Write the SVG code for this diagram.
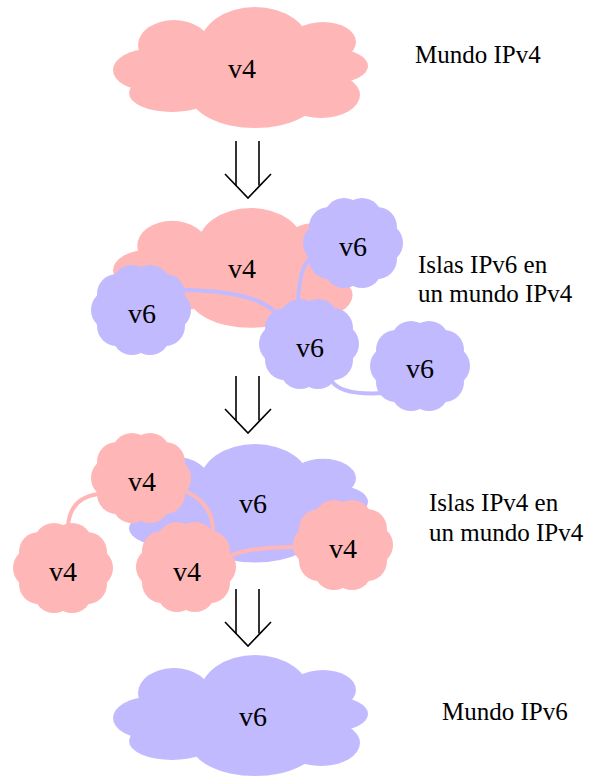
<svg xmlns="http://www.w3.org/2000/svg" width="596" height="777" viewBox="0 0 596 777" font-family="'Liberation Serif', 'Times New Roman', serif">
<style>
.v4{fill:#ffb6b6}
.v6{fill:#c1baff}
text{font-family:'Liberation Serif','Times New Roman',serif;fill:#000}
.ct{font-size:28px;text-anchor:middle}
.lb{font-size:25px}
.c4{fill:none;stroke:#ffb6b6;stroke-width:4;stroke-linecap:round}
.c6{fill:none;stroke:#c1baff;stroke-width:4;stroke-linecap:round}
.ar{fill:none;stroke:#000;stroke-width:1.6}
</style>
<defs>
<symbol id="big" overflow="visible">
<ellipse cx="37" cy="63" rx="37" ry="21"/>
<ellipse cx="61" cy="38" rx="36" ry="25"/>
<ellipse cx="142" cy="39" rx="55" ry="39"/>
<ellipse cx="210" cy="35" rx="33" ry="20"/>
<ellipse cx="221" cy="59" rx="34" ry="17"/>
<ellipse cx="208" cy="88" rx="39" ry="23"/>
<ellipse cx="142" cy="87" rx="65" ry="34"/>
<ellipse cx="59" cy="86" rx="43" ry="19"/>
<ellipse cx="128" cy="60" rx="100" ry="35"/>
</symbol>
<symbol id="small" overflow="visible">
<ellipse cx="50" cy="45" rx="38" ry="34"/>
<circle cx="80" cy="45" r="20"/>
<circle cx="74" cy="61" r="20"/>
<circle cx="59" cy="70" r="20"/>
<circle cx="41" cy="70" r="20"/>
<circle cx="26" cy="61" r="20"/>
<circle cx="20" cy="45" r="20"/>
<circle cx="26" cy="29" r="20"/>
<circle cx="41" cy="20" r="20"/>
<circle cx="59" cy="20" r="20"/>
<circle cx="74" cy="29" r="20"/>
</symbol>
<g id="arrow">
<line class="ar" x1="236" y1="0" x2="236" y2="44.5"/>
<line class="ar" x1="259" y1="0" x2="259" y2="44.5"/>
<polyline class="ar" points="225,33 248,57 271,33"/>
</g>
</defs>

<!-- Stage 1 -->
<g id="world-v4">
<use href="#big" class="v4" transform="translate(113,7)"/>
<text class="ct" x="242" y="78">v4</text>
</g>
<text id="label-1" class="lb" x="415" y="63">Mundo IPv4</text>

<g id="arrows">
<use href="#arrow" transform="translate(0,141)"/>
<use href="#arrow" transform="translate(0,376)"/>
<use href="#arrow" transform="translate(0,589)"/>
</g>

<!-- Stage 2 -->
<g id="s2-world-v4">
<use href="#big" class="v4" transform="translate(113,208) scale(0.97,0.99)"/>
</g>
<g id="connectors-s2">
<path class="c6" d="M185,290 Q255,291 276,313"/>
<path class="c6" d="M298,304 Q299,265 312,257"/>
<path class="c6" d="M331,380 Q340,396 385,393"/>
</g>
<text class="ct" x="242" y="278">v4</text>
<g id="s2-v6-tr"><use href="#small" class="v6" transform="translate(303,198)"/><text class="ct" x="353" y="256">v6</text></g>
<g id="s2-v6-l"><use href="#small" class="v6" transform="translate(91,265)"/><text class="ct" x="142" y="323">v6</text></g>
<g id="s2-v6-c"><use href="#small" class="v6" transform="translate(259,299)"/><text class="ct" x="310" y="357">v6</text></g>
<g id="s2-v6-r"><use href="#small" class="v6" transform="translate(370,321)"/><text class="ct" x="420" y="378">v6</text></g>
<g id="label-2">
<text class="lb" x="418" y="273">Islas IPv6 en</text>
<text class="lb" x="418" y="302">un mundo IPv4</text>
</g>

<!-- Stage 3 -->
<g id="s3-world-v6">
<use href="#big" class="v6" transform="translate(113,444) scale(1.0,0.98)"/>
<text class="ct" x="253" y="513">v6</text>
</g>
<g id="connectors-s3">
<path class="c4" d="M98,494 Q70,498 68,526"/>
<path class="c4" d="M187,492 Q215,505 213,536"/>
<path class="c4" d="M230,556 Q250,547 296,547"/>
</g>
<g id="s3-v4-t"><use href="#small" class="v4" transform="translate(91,433)"/><text class="ct" x="142" y="491">v4</text></g>
<g id="s3-v4-l"><use href="#small" class="v4" transform="translate(13,523)"/><text class="ct" x="63" y="581">v4</text></g>
<g id="s3-v4-c"><use href="#small" class="v4" transform="translate(136,522)"/><text class="ct" x="187" y="581">v4</text></g>
<g id="s3-v4-r"><use href="#small" class="v4" transform="translate(293,500)"/><text class="ct" x="343" y="558">v4</text></g>
<g id="label-3">
<text class="lb" x="429" y="511">Islas IPv4 en</text>
<text class="lb" x="429" y="541">un mundo IPv4</text>
</g>

<!-- Stage 4 -->
<g id="world-v6">
<use href="#big" class="v6" transform="translate(113,655)"/>
<text class="ct" x="253" y="726">v6</text>
</g>
<text id="label-4" class="lb" x="442" y="720">Mundo IPv6</text>
</svg>
